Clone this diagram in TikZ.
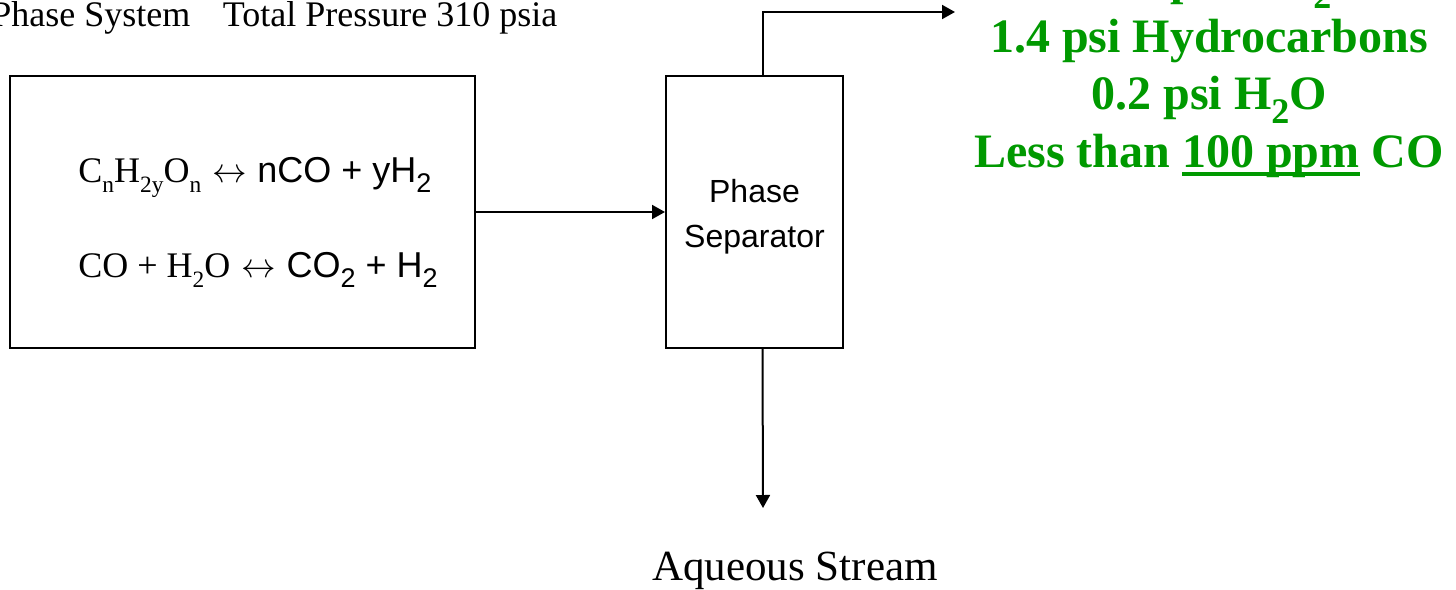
\documentclass[tikz,border=0pt]{standalone}
\usepackage{fontspec}
\setmainfont{Liberation Serif}
\setsansfont{Liberation Sans}
\usetikzlibrary{arrows.meta}
\definecolor{gasgreen}{RGB}{0,153,0}
\newcommand{\dn}[2][0.7]{\raisebox{-0.3em}{\scalebox{#1}{#2}}}
\newcommand{\thickul}[1]{\setbox0\hbox{#1}\rlap{\rule[-4.5pt]{\wd0}{1.8pt}}\box0\relax}
\tikzset{
  unit/.style={draw,line width=1pt,inner sep=0pt},
  flow/.style={line width=1pt,-{Triangle[length=6.5pt,width=7pt]}},
}
\begin{document}
\begin{tikzpicture}[x=0.5pt,y=-0.5pt]
    % Cadre de l'image
    \useasboundingbox (0,0) rectangle (1456,589);

    % Titre (coupe a gauche)
    \node[anchor=base west,inner sep=0pt,font=\fontsize{18}{21}\selectfont] (title) at (-9,26)
        {Phase System\hspace{0.9em}Total Pressure 310 psia};

    % Reacteur et reactions
    \node[unit,minimum width=232.5pt,minimum height=136pt] (reactor) at (242.5,212) {};
    \node[anchor=base west,inner sep=0pt,font=\fontsize{18}{21}\selectfont] (eqone) at (78,182)
        {C\dn[0.65]{n}H\dn[0.65]{2y}O\dn[0.65]{n}\hspace{0.3em}$\leftrightarrow$\hspace{0.3em}{\sffamily nCO + yH\dn[0.75]{2}}};
    \node[anchor=base west,inner sep=0pt,font=\fontsize{18}{21}\selectfont] (eqtwo) at (78,277)
        {CO + H\dn[0.65]{2}O\hspace{0.3em}$\leftrightarrow$\hspace{0.3em}{\sffamily CO\dn[0.75]{2} + H\dn[0.75]{2}}};

    % Separateur
    \node[unit,minimum width=88.5pt,minimum height=136pt] (sep) at (754.5,212) {};
    \node[align=center,inner sep=0pt,font=\fontsize{16}{22.5}\selectfont\sffamily] (septext)
        at ([yshift=-2.5pt]sep.center) {Phase\\Separator};

    % Courants
    \coordinate (gastip) at (955,12);
    \coordinate (liqtip) at (763,508);
    \draw[flow] (reactor.east) -- (sep.west);
    \draw[flow] ([xshift=4pt]sep.north) |- (gastip);
    \draw[flow] ([xshift=4pt]sep.south) -- (liqtip);

    % Composition du gaz
    \node[anchor=base,inner sep=0pt,align=center,text=gasgreen,
          font=\fontsize{24}{28.75}\selectfont\bfseries] (gasout) at (1209,167)
        {100 psi CO\dn[0.75]{2}\\
         1.4 psi Hydrocarbons\\
         0.2 psi H\dn[0.75]{2}O\\
         Less than \thickul{100 ppm} CO};

    % Courant aqueux
    \node[anchor=base,inner sep=0pt,font=\fontsize{21.5}{25}\selectfont] (aqlabel) at (795,580) {Aqueous Stream};
\end{tikzpicture}
\end{document}
